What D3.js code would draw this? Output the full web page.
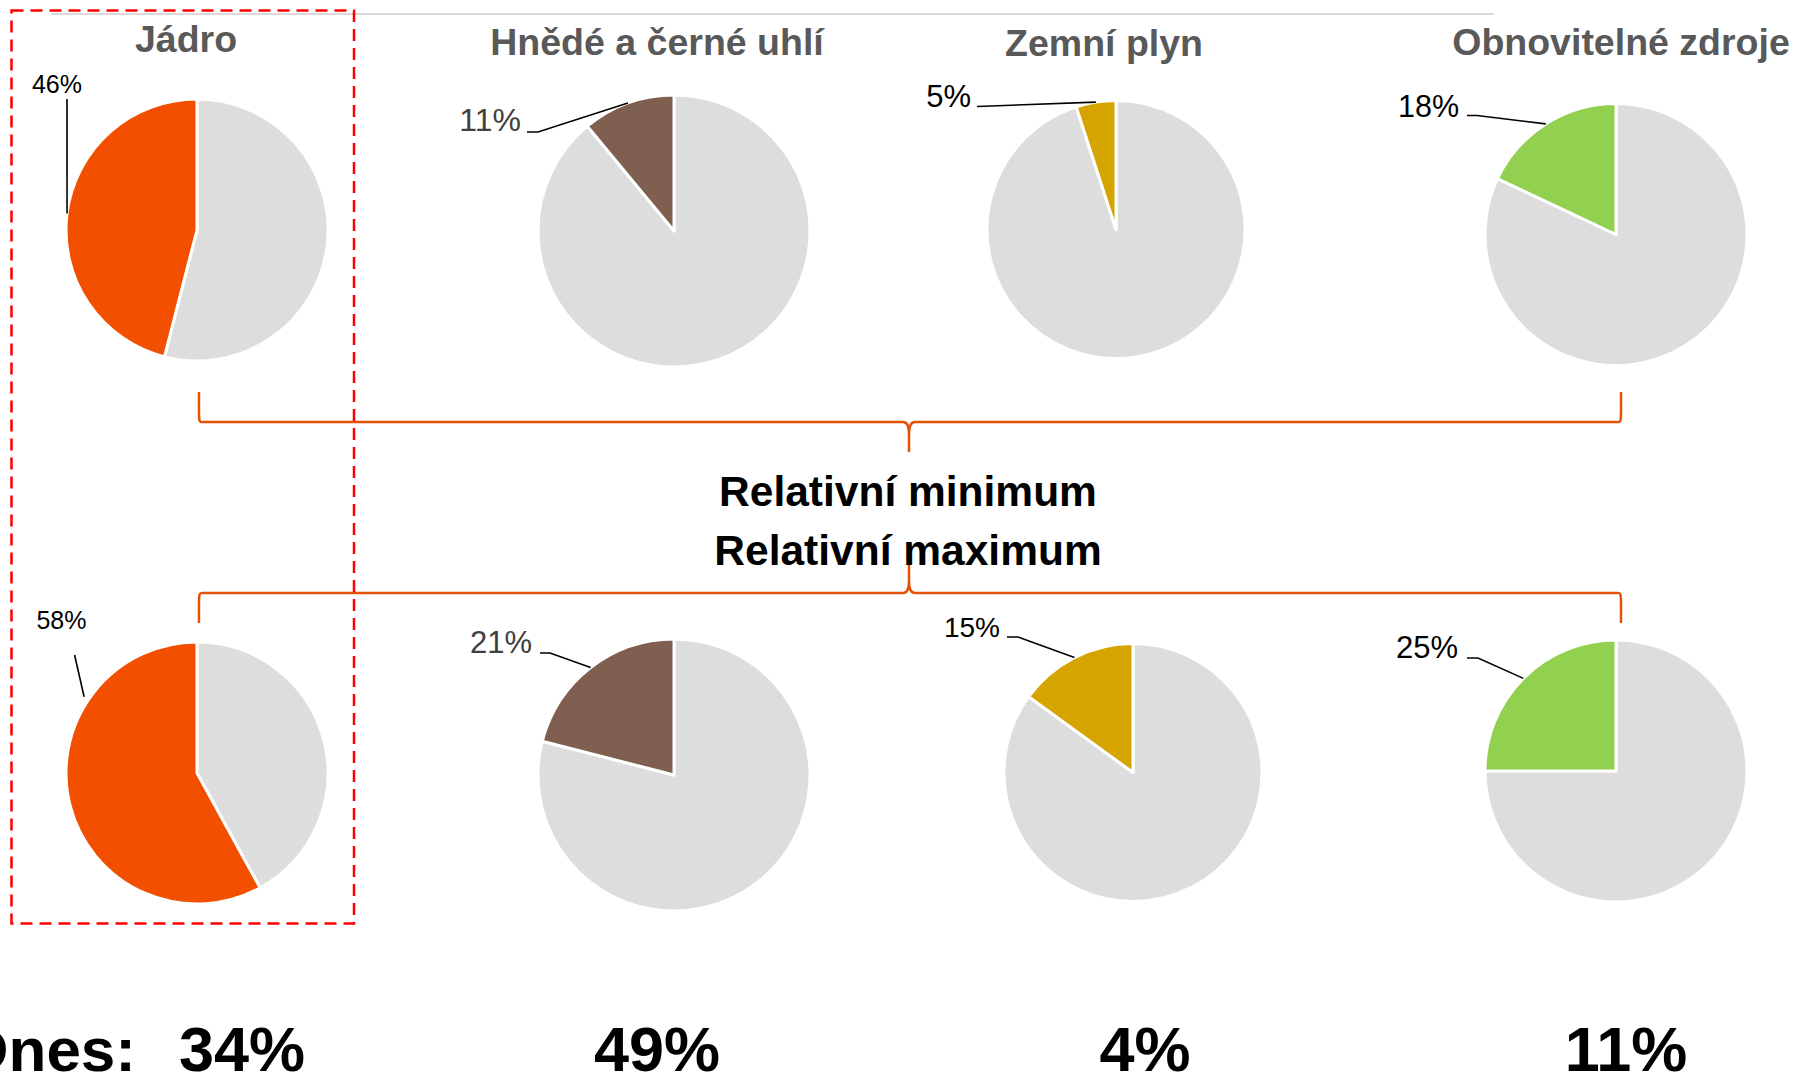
<!DOCTYPE html>
<html>
<head>
<meta charset="utf-8">
<script src="https://cdn.jsdelivr.net/npm/d3@7"></script>
<style>
  html, body { margin: 0; padding: 0; background: #ffffff; }
  svg { display: block; }
  text { font-family: "Liberation Sans", Arial, Helvetica, sans-serif; }
</style>
</head>
<body>
<svg id="chart" width="1795" height="1077"></svg>
<script>
// ---------------- data ----------------
const categories = ["Jádro", "Hnědé a černé uhlí", "Zemní plyn", "Obnovitelné zdroje"];
const minShares = [46, 11, 5, 18];     // Relativní minimum (%)
const maxShares = [58, 21, 15, 25];    // Relativní maximum (%)
const todayShares = [34, 49, 4, 11];   // Dnes (%)
const rowLabels = ["Relativní minimum", "Relativní maximum"];
const todayLabel = "Dnes:";
const sliceColors = ["#F25000", "#7F6050", "#D6A400", "#92D050"];
const restColor = "#DDDDDD";

// ---------------- layout ----------------
const pieRadius = [131, 136, 129, 131];
const topCenters = [[197, 230], [674, 231], [1116, 229.5], [1616, 234.5]];
const botCenters = [[197, 773], [674, 775], [1133, 772.5], [1616, 771]];
const titleX = [186, 657, 1104, 1621];
const titleY = [52, 55, 56, 55];
const todayX = [242, 657, 1145, 1626];

// label layout relative to pie centre: text anchor end point, leader start, optional elbow, leader target (fraction of slice, radius factor)
const topLabelLayout = [
  { tx: -115, ty: -137, size: 25, color: "#000", start: [-130, -131], elbow: null, frac: 0.5, rf: 1.0 },
  { tx: -153, ty: -100, size: 32, color: "#404040", start: [-147, -99], elbow: [-136, -99], frac: 0.5, rf: 1.0 },
  { tx: -145, ty: -122.5, size: 31, color: "#000", start: [-139, -123], elbow: null, frac: 0.5, rf: 1.0 },
  { tx: -157, ty: -117.5, size: 30.5, color: "#000", start: [-149, -119], elbow: [-139, -119], frac: 0.5, rf: 1.0 }
];
const botLabelLayout = [
  { tx: -110.5, ty: -143.7, size: 25, color: "#000", start: [-122.4, -118], elbow: null, frac: 0.732, rf: 1.04 },
  { tx: -142, ty: -122, size: 31, color: "#404040", start: [-134, -122], elbow: [-124, -122], frac: 0.5, rf: 1.0 },
  { tx: -133, ty: -135.5, size: 28, color: "#000", start: [-126, -135.5], elbow: [-115, -135.5], frac: 0.5, rf: 1.0 },
  { tx: -158, ty: -113, size: 31, color: "#000", start: [-149, -113], elbow: [-138, -113], frac: 0.5, rf: 1.0 }
];

const svg = d3.select("#chart");
const fmt = v => v + "%";

// top grey rule
svg.append("line").attr("x1", 51).attr("x2", 1494).attr("y1", 14).attr("y2", 14)
  .attr("stroke", "#d9d9d9").attr("stroke-width", 2);

// titles
svg.selectAll("text.title").data(categories).join("text")
  .attr("class", "title")
  .attr("x", (d, i) => titleX[i]).attr("y", (d, i) => titleY[i])
  .attr("text-anchor", "middle")
  .attr("font-size", 37.5).attr("font-weight", "bold").attr("fill", "#595959")
  .text(d => d);

const pieGen = d3.pie().sort(null).value(d => d.v);

function drawRow(values, centers, layout, cls) {
  values.forEach((val, i) => {
    const r = pieRadius[i];
    const [cx, cy] = centers[i];
    const g = svg.append("g").attr("class", cls).attr("transform", `translate(${cx},${cy})`);
    const arcs = pieGen([{ v: 100 - val, c: restColor }, { v: val, c: sliceColors[i] }]);
    const arcGen = d3.arc().innerRadius(0).outerRadius(r);
    g.selectAll("path").data(arcs).join("path")
      .attr("d", arcGen)
      .attr("fill", d => d.data.c)
      .attr("stroke", "#ffffff").attr("stroke-width", 3).attr("stroke-linejoin", "round");

    const L = layout[i];
    const s = arcs[1];
    const a = s.startAngle + (s.endAngle - s.startAngle) * L.frac;
    const R = r * L.rf;
    const target = [R * Math.sin(a), -R * Math.cos(a)];
    const pts = [L.start];
    if (L.elbow) pts.push(L.elbow);
    pts.push(target);
    g.append("path")
      .attr("d", d3.line()(pts))
      .attr("fill", "none").attr("stroke", "#000").attr("stroke-width", 1.6);
    g.append("text")
      .attr("x", L.tx).attr("y", L.ty)
      .attr("text-anchor", "end")
      .attr("font-size", L.size).attr("fill", L.color)
      .text(fmt(val));
  });
}
drawRow(minShares, topCenters, topLabelLayout, "pie-min");
drawRow(maxShares, botCenters, botLabelLayout, "pie-max");

// braces
const braceColor = "#E35205";
const bx0 = 199, bx1 = 1621, bmid = 909;
function brace(yLine, yEnd, yTip) {
  const dEnd = yEnd < yLine ? -1 : 1;
  const dTip = yTip > yLine ? 1 : -1;
  const p = d3.path();
  p.moveTo(bx0, yEnd);
  p.bezierCurveTo(bx0, yLine - dEnd * 4, bx0 - 1, yLine, bx0 + 6, yLine);
  p.lineTo(bmid - 6, yLine);
  p.bezierCurveTo(bmid - 2, yLine, bmid, yLine + dTip * 3, bmid, yLine + dTip * 12);
  p.lineTo(bmid, yTip);
  p.moveTo(bmid, yLine + dTip * 12);
  p.bezierCurveTo(bmid, yLine + dTip * 3, bmid + 2, yLine, bmid + 6, yLine);
  p.lineTo(bx1 - 6, yLine);
  p.bezierCurveTo(bx1 + 1, yLine, bx1, yLine - dEnd * 4, bx1, yEnd);
  svg.append("path").attr("d", p.toString())
    .attr("fill", "none").attr("stroke", braceColor).attr("stroke-width", 2.5);
}
brace(422, 392, 452);
brace(593, 623, 563);

// row labels
svg.selectAll("text.rowlabel").data(rowLabels).join("text")
  .attr("class", "rowlabel")
  .attr("x", 908).attr("y", (d, i) => i === 0 ? 506 : 565)
  .attr("text-anchor", "middle")
  .attr("font-size", 42.5).attr("font-weight", "bold").attr("fill", "#000")
  .text(d => d);

// red dashed highlight box
svg.append("rect").attr("x", 11.5).attr("y", 10.5).attr("width", 342.5).attr("height", 913)
  .attr("fill", "none").attr("stroke", "#FF0000").attr("stroke-width", 2.5)
  .attr("stroke-dasharray", "12,7");

// today values
svg.append("text").attr("x", 136).attr("y", 1071)
  .attr("text-anchor", "end").attr("font-size", 62).attr("font-weight", "bold").attr("fill", "#000")
  .text(todayLabel);
svg.selectAll("text.today").data(todayShares).join("text")
  .attr("class", "today")
  .attr("x", (d, i) => todayX[i]).attr("y", 1071)
  .attr("text-anchor", "middle").attr("font-size", 63).attr("font-weight", "bold").attr("fill", "#000")
  .text(d => fmt(d));
</script>
</body>
</html>
